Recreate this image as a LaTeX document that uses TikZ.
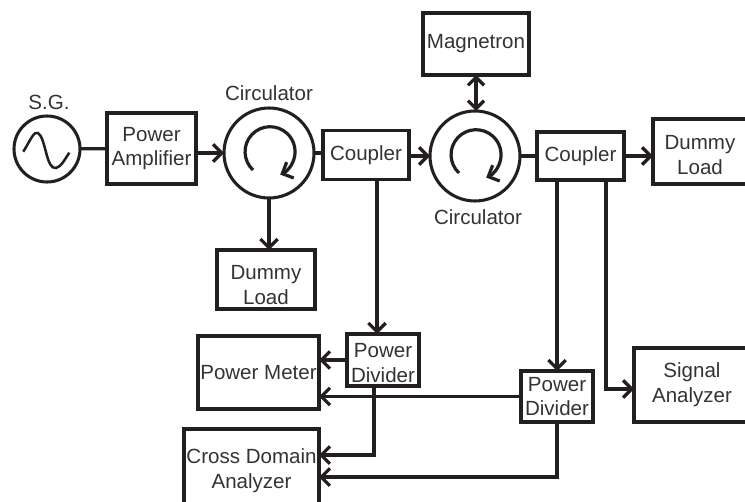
\documentclass[tikz,border=0pt]{standalone}
\usepackage{fontspec}
\setmainfont{Liberation Sans}
\usetikzlibrary{arrows.meta}
\definecolor{lineblack}{RGB}{35,31,32}
\tikzset{
    blockbox/.style 2 args={draw=lineblack,line width=2.3pt,fill=white,inner sep=0pt,outer sep=0pt,align=center,text=black!80,minimum width=#1*0.75pt,minimum height=#2*0.75pt},
    ringnode/.style={circle,draw=lineblack,line width=2.3pt,fill=white,inner sep=0pt,outer sep=0pt,minimum size=#1*1.5pt},
    labeltext/.style={text=black!80,inner sep=0pt},
    conn/.style={draw=lineblack,line width=2.4pt},
    flow/.style={conn,-{Straight Barb[length=6.5pt,width=13pt,line width=2.4pt]}},
    bothflow/.style={conn,{Straight Barb[length=6pt,width=12pt,line width=2.4pt]}-{Straight Barb[length=6pt,width=12pt,line width=2.4pt]}}
}

\begin{document}
\begin{tikzpicture}[x=0.75pt,y=-0.75pt,every node/.style={font=\fontsize{15.4}{18.6}\selectfont}]
    \clip (0,0) rectangle (745,502);

    % === Top line ===
    \node[ringnode=33] (sg) at (47,149) {};
    \node[labeltext] (sglabel) at (49,102) {S.G.};
    \node[blockbox={89}{71}] (pa) at (151.5,148.5) {Power\\Amplifier};
    \node[ringnode=45] (circa) at (269,153) {};
    \node[labeltext] (circalabel) at (269,93) {Circulator};
    \node[blockbox={86}{49}] (coupa) at (366,155) {Coupler};
    \node[ringnode=45] (circb) at (475,156) {};
    \node[labeltext] (circblabel) at (478,217) {Circulator};
    \node[blockbox={106}{62}] (magn) at (476,44) {Magnetron};
    \node[blockbox={87}{48}] (coupb) at (580.5,156) {Coupler};
    \node[blockbox={94}{65}] (dlb) at (700,151.5) {\rule{0pt}{15.5pt}Dummy\\Load};

    % === Lower boxes ===
    \node[blockbox={98}{59}] (dla) at (266,279.5) {\rule{0pt}{19pt}Dummy\\Load};
    \node[blockbox={121}{73}] (pm) at (258.5,372.5) {Power Meter};
    \node[blockbox={72}{52}] (pda) at (383,360) {\rule{0pt}{15.5pt}Power\\Divider};
    \node[blockbox={72}{51}] (pdb) at (557,396.5) {Power\\Divider};
    \node[blockbox={116}{74}] (sa) at (692,385) {Signal\\Analyzer};
    \node[blockbox={135}{83}] (cda) at (251.5,470.5) {Cross Domain\\Analyzer};

    % signal glyph and circulator loops
    \draw[conn,line width=1.9pt] (23.3,151.7) .. controls (31,139) and (34,131) .. (38,133) .. controls (46,138) and (46,170) .. (56,168) .. controls (61,167) and (65,159) .. (69.3,152.7);
    \draw[flow] (253,170) arc[start angle=133,end angle=426,radius=25];
    \draw[flow] (459,173) arc[start angle=133,end angle=426,radius=25];

    % === Connectors ===
    \draw[conn] (sg) -- (pa);
    \draw[flow] (circa.west -| pa.east) -- (circa.west);
    \draw[conn] (circa.east) -- (circa.east -| coupa.west);
    \draw[flow] (circb.west -| coupa.east) -- (circb.west);
    \draw[conn] (circb.east) -- (circb.east -| coupb.west);
    \draw[flow] (coupb.east) -- (coupb.east -| dlb.west);
    \draw[bothflow] (magn.south) -- (circb.north -| magn.south);
    \draw[flow] (circa.south) -- (circa.south |- dla.north);
    \draw[flow] ([xshift=8.25pt]coupa.south) -- ([xshift=8.25pt]coupa.south |- pda.north);
    \draw[flow] ([xshift=-17.6pt]coupb.south) -- ([xshift=-17.6pt]coupb.south |- pdb.north);
    \draw[flow] ([xshift=19.1pt]coupb.south) |- ([yshift=-3pt]sa.west);
    \draw[flow] (pda.west) -- (pda.west -| pm.east);
    \draw[flow] (pdb.west) -- (pdb.west -| pm.east);
    \draw[flow] ([xshift=-6.75pt]pda.south) |- ([yshift=11.6pt]cda.east);
    \draw[flow] (pdb.south) |- ([yshift=-4.9pt]cda.east);
\end{tikzpicture}
\end{document}
